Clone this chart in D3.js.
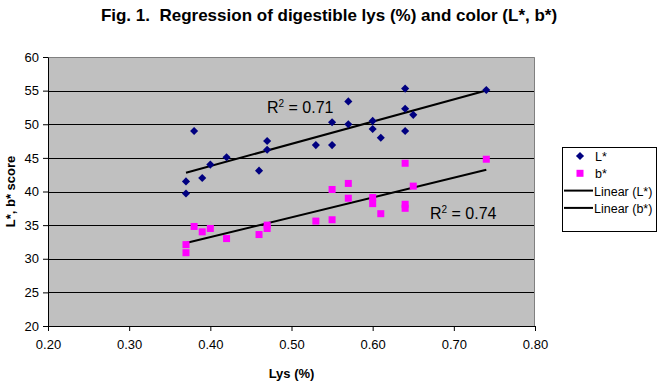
<!DOCTYPE html>
<html>
<head>
<meta charset="utf-8">
<script src="https://cdn.jsdelivr.net/npm/d3@7"></script>
<style>
  body { margin: 0; background: #fff; }
  svg { display: block; font-family: "Liberation Sans", Arial, sans-serif; }
</style>
</head>
<body>
<div id="chart"></div>
<script>
// Digestible lys (%) for each sample
const lys = [0.37, 0.37, 0.38, 0.39, 0.40, 0.42, 0.46, 0.47, 0.47, 0.53, 0.55,
  0.55, 0.57, 0.57, 0.60, 0.60, 0.61, 0.64, 0.64, 0.64, 0.65, 0.74];
// L* score per sample
const lStar = [41.5, 39.7, 49.0, 42.0, 44.0, 45.1, 43.1, 47.5, 46.2, 46.9, 46.9,
  50.3, 53.4, 50.0, 50.5, 49.3, 48.0, 55.3, 52.3, 49.0, 51.4, 55.1];
// b* score per sample
const bStar = [32.1, 30.9, 34.8, 34.0, 34.5, 33.0, 33.6, 34.5, 35.0, 35.6, 35.8,
  40.3, 41.2, 39.0, 39.1, 38.2, 36.7, 44.2, 38.1, 37.5, 40.8, 44.8];

const xTicks = [0.2, 0.3, 0.4, 0.5, 0.6, 0.7, 0.8];
const yTicks = [20, 25, 30, 35, 40, 45, 50, 55, 60];
const r2Labels = ['0.71', '0.74'];

const W = 662;
const H = 385;
const margin = { top: 57, right: 127, bottom: 59, left: 48 };
const width = W - margin.left - margin.right;
const height = H - margin.top - margin.bottom;

const svg = d3.select('#chart').append('svg')
  .attr('width', W)
  .attr('height', H);

const x = d3.scaleLinear().domain([0.2, 0.8]).range([0, width]);
const y = d3.scaleLinear().domain([20, 60]).range([height, 0]);

// title (keep the double space after "Fig. 1.")
svg.append('text')
  .attr('x', 329)
  .attr('y', 21)
  .attr('text-anchor', 'middle')
  .style('font-size', '17px')
  .style('font-weight', 'bold')
  .style('white-space', 'pre')
  .text('Fig. 1.  Regression of digestible lys (%) and color (L*, b*)');

const g = svg.append('g')
  .attr('transform', `translate(${margin.left},${margin.top})`);

g.append('rect')
  .attr('width', width)
  .attr('height', height)
  .attr('fill', '#c0c0c0');

// gridlines
g.selectAll('.grid')
  .data(yTicks.slice(1, -1))
  .enter()
  .append('line')
  .attr('x1', 0)
  .attr('x2', width)
  .attr('y1', (d) => Math.round(y(d)) + 0.5)
  .attr('y2', (d) => Math.round(y(d)) + 0.5)
  .attr('stroke', '#000')
  .attr('stroke-width', 1);

// top and right frame
g.append('path')
  .attr('d', `M0,0.5H${width - 0.5}V${height}`)
  .attr('fill', 'none')
  .attr('stroke', '#808080');

const xAxis = g.append('g')
  .attr('transform', `translate(0,${height})`)
  .call(d3.axisBottom(x).tickValues(xTicks).tickFormat(d3.format('.2f')).tickSizeInner(5).tickSizeOuter(0).tickPadding(9));

const yAxis = g.append('g')
  .call(d3.axisLeft(y).tickValues(yTicks).tickSizeInner(5).tickSizeOuter(0).tickPadding(4));

[xAxis, yAxis].forEach((ax) => {
  ax.select('.domain').attr('stroke', '#000');
  ax.selectAll('.tick line').attr('stroke', '#000');
  ax.selectAll('.tick text')
    .attr('fill', '#000')
    .style('font-size', '13px')
    .style('font-family', '"Liberation Sans", Arial, sans-serif');
});

// axis titles
svg.append('text')
  .attr('x', margin.left + width / 2)
  .attr('y', 378)
  .attr('text-anchor', 'middle')
  .style('font-size', '13px')
  .style('font-weight', 'bold')
  .text('Lys (%)');

svg.append('text')
  .attr('transform', `translate(15,${margin.top + height / 2}) rotate(-90)`)
  .attr('text-anchor', 'middle')
  .style('font-size', '13px')
  .style('font-weight', 'bold')
  .text('L*, b* score');

// least squares trend line over the data range
function fit(xs, ys) {
  const mx = d3.mean(xs);
  const my = d3.mean(ys);
  let sxy = 0;
  let sxx = 0;
  xs.forEach((v, i) => {
    sxy += (v - mx) * (ys[i] - my);
    sxx += (v - mx) * (v - mx);
  });
  const slope = sxy / sxx;
  const icpt = my - slope * mx;
  const x0 = d3.min(xs);
  const x1 = d3.max(xs);
  return [[x0, icpt + slope * x0], [x1, icpt + slope * x1]];
}

const line = d3.line().x((d) => x(d[0])).y((d) => y(d[1]));

[lStar, bStar].forEach((vals) => {
  g.append('path')
    .attr('d', line(fit(lys, vals)))
    .attr('fill', 'none')
    .attr('stroke', '#000')
    .attr('stroke-width', 2);
});

const diamond = d3.symbol().type(d3.symbolDiamond2).size(42);

g.selectAll('.lpt')
  .data(lys.map((v, i) => [v, lStar[i]]))
  .enter()
  .append('path')
  .attr('d', diamond)
  .attr('transform', (d) => `translate(${x(d[0])},${y(d[1])})`)
  .attr('fill', '#000080');

g.selectAll('.bpt')
  .data(lys.map((v, i) => [v, bStar[i]]))
  .enter()
  .append('rect')
  .attr('x', (d) => x(d[0]) - 3.5)
  .attr('y', (d) => y(d[1]) - 3.5)
  .attr('width', 7)
  .attr('height', 7)
  .attr('fill', '#ff00ff');

// R squared labels
function r2Text(px, py, val) {
  const t = svg.append('text')
    .attr('x', px)
    .attr('y', py)
    .style('font-size', '16px')
    .attr('fill', '#000');
  t.append('tspan').text('R');
  t.append('tspan').attr('dy', -6).style('font-size', '10px').text('2');
  t.append('tspan').attr('dy', 6).text(` = ${val}`);
}
r2Text(267, 113, r2Labels[0]);
r2Text(430, 219, r2Labels[1]);

// legend
const legend = svg.append('g').attr('transform', 'translate(562,147)');
legend.append('rect')
  .attr('x', 0.5)
  .attr('y', 0.5)
  .attr('width', 94)
  .attr('height', 84)
  .attr('fill', '#fff')
  .attr('stroke', '#000');

const legendItems = ['L*', 'b*', 'Linear (L*)', 'Linear (b*)'];
const rowY = (i) => 9 + i * 17.3;

legend.append('path')
  .attr('d', diamond)
  .attr('transform', `translate(18,${rowY(0)})`)
  .attr('fill', '#000080');
legend.append('rect')
  .attr('x', 14.5)
  .attr('y', rowY(1) - 3.5)
  .attr('width', 7)
  .attr('height', 7)
  .attr('fill', '#ff00ff');
[2, 3].forEach((i) => {
  legend.append('line')
    .attr('x1', 2)
    .attr('x2', 31)
    .attr('y1', rowY(i))
    .attr('y2', rowY(i))
    .attr('stroke', '#000')
    .attr('stroke-width', 2);
});

legend.selectAll('.ltxt')
  .data(legendItems)
  .enter()
  .append('text')
  .attr('x', (d, i) => (i < 2 ? 33 : 32))
  .attr('y', (d, i) => rowY(i) + 5)
  .style('font-size', '12.5px')
  .text((d) => d);
</script>
</body>
</html>
